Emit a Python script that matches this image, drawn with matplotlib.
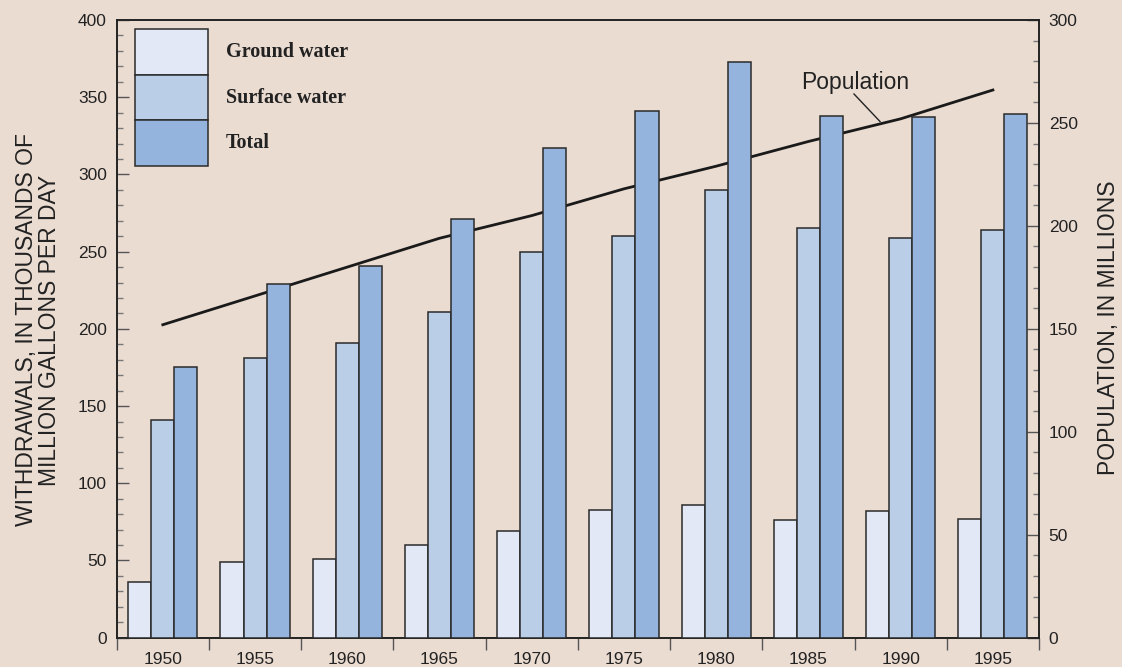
import matplotlib
matplotlib.use("Agg")
import matplotlib.pyplot as plt
from matplotlib.patches import Rectangle
from matplotlib.lines import Line2D
from matplotlib.ticker import MultipleLocator, FixedLocator, NullFormatter
import numpy as np

years = ["1950", "1955", "1960", "1965", "1970", "1975", "1980", "1985", "1990", "1995"]
ground_water = [36, 49, 51, 60, 69, 83, 86, 76, 82, 77]
surface_water = [141, 181, 191, 211, 250, 260, 290, 265, 259, 264]
total = [175, 229, 241, 271, 317, 341, 373, 338, 337, 339]
population = [152, 166, 180, 194, 205, 218, 229, 241, 252, 266]

series_names = ["Ground water", "Surface water", "Total"]
colors = ["#E2E8F5", "#BACEE8", "#95B4DD"]
bg = "#EBDCD2"
edge = "#2a2a2a"

plt.rcParams['font.family'] = ['Liberation Sans', 'DejaVu Sans']

W, H = 1122, 667
fig = plt.figure(figsize=(W/100, H/100), dpi=100, facecolor=bg)
ax = fig.add_axes([116.7/W, 1-637.7/H, 922.3/W, 617.7/H])
ax2 = ax.twinx()
ax.set_zorder(2)
ax2.set_zorder(1)
ax.patch.set_visible(False)
ax2.patch.set_facecolor(bg)
ax2.patch.set_visible(True)

n = len(years)
x = np.arange(n) + 0.5
w = 0.25
for k, (vals, c) in enumerate(zip([ground_water, surface_water, total], colors)):
    ax.bar(x + (k - 1) * w, vals, width=w, color=c, edgecolor=edge, linewidth=1.1, zorder=3)

ax2.plot(x, population, color="#1a1a1a", linewidth=2.0, zorder=2)

ax.set_xlim(0, n)
ax.set_ylim(0, 400)
ax2.set_ylim(0, 300)

# x ticks
ax.xaxis.set_major_locator(FixedLocator(np.arange(n + 1)))
ax.xaxis.set_major_formatter(NullFormatter())
ax.set_xticks(x, years, minor=True)
ax.tick_params(axis='x', which='major', direction='out', length=8.6, width=1.0, color='#555555')
ax.tick_params(axis='x', which='minor', length=0, pad=10.5, labelsize=12.5, labelcolor='#222222')

# left y ticks
ax.yaxis.set_major_locator(MultipleLocator(50))
ax.yaxis.set_minor_locator(MultipleLocator(10))
ax.tick_params(axis='y', which='major', direction='in', length=8.4, width=1.0, color='#555555',
               pad=7, labelsize=12.5, labelcolor='#222222')
ax.tick_params(axis='y', which='minor', direction='in', length=4.3, width=1.0, color='#777777')

# right y ticks
ax2.yaxis.set_major_locator(MultipleLocator(50))
ax2.yaxis.set_minor_locator(MultipleLocator(10))
ax2.tick_params(axis='y', which='major', direction='in', length=8.4, width=1.0, color='#555555',
                pad=7, labelsize=12.5, labelcolor='#222222')
ax2.tick_params(axis='y', which='minor', direction='in', length=4.3, width=1.0, color='#777777')

for a in (ax, ax2):
    for s in a.spines.values():
        s.set_color('#222222')
        s.set_linewidth(1.2)

# axis labels
fig.text(38/W, 1-330/H, "WITHDRAWALS, IN THOUSANDS OF\nMILLION GALLONS PER DAY",
         rotation=90, ha='center', va='center', fontsize=16.5, color='#222222', linespacing=0.95)
fig.text(1108/W, 1-328/H, "POPULATION, IN MILLIONS",
         rotation=90, ha='center', va='center', fontsize=16.5, color='#222222')

# Population annotation
fig.text(855.5/W, 1-83/H, "Population", ha='center', va='center', fontsize=16.5, color='#222222')
fig.add_artist(Line2D([854/W, 880/W], [1-94/H, 1-121.5/H], transform=fig.transFigure,
                      color='#222222', linewidth=1.0))

# legend (custom stacked patches)
lx0, lx1 = 0.0198, 0.099
top = 0.985
h = 0.0738
for k, (name, c) in enumerate(zip(series_names, colors)):
    y0 = top - (k + 1) * h
    ax.add_patch(Rectangle((lx0, y0), lx1 - lx0, h, transform=ax.transAxes,
                           facecolor=c, edgecolor=edge, linewidth=1.1, zorder=5))
    ax.text(0.1185, y0 + h / 2, name, transform=ax.transAxes, ha='left', va='center',
            fontsize=14.5, fontweight='bold', family=['Liberation Serif', 'DejaVu Serif'],
            color='#222222', zorder=5)

fig.savefig("out.png", dpi=100, facecolor=bg)
